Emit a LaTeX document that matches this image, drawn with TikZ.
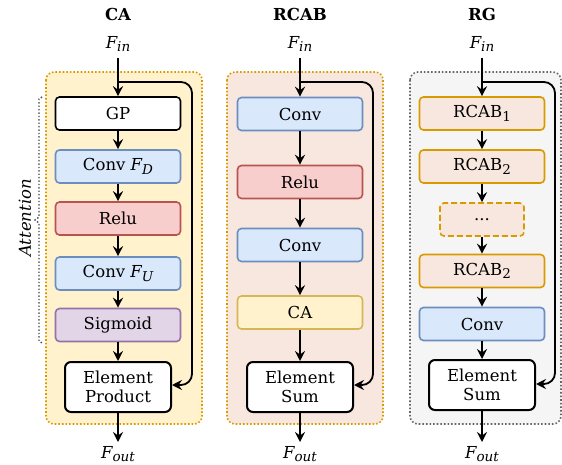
\documentclass[tikz,border=0pt]{standalone}
\usepackage{fontspec}
\setmainfont{DejaVu Serif}
\usetikzlibrary{arrows.meta}
\definecolor{caFill}{HTML}{FFF2CC}
\definecolor{caLine}{HTML}{D6B656}
\definecolor{orLine}{HTML}{D79B00}
\definecolor{rcFill}{HTML}{F8E7DF}
\definecolor{bluFill}{HTML}{DAE8FC}
\definecolor{bluLine}{HTML}{6C8EBF}
\definecolor{redFill}{HTML}{F8CECC}
\definecolor{redLine}{HTML}{B85450}
\definecolor{purFill}{HTML}{E1D5E7}
\definecolor{purLine}{HTML}{9673A6}
\definecolor{grFill}{HTML}{F5F5F5}
\definecolor{grLine}{HTML}{666666}
\newcommand\lsub[1]{\raisebox{-0.22em}{\fontsize{13.5}{13.5}\selectfont #1}}
\newcommand\Fx[1]{\textit{F\lsub{#1}}}
\begin{document}
\begin{tikzpicture}[x=1pt,y=-1pt,
  every node/.style={font=\fontsize{16.5}{19.5}\selectfont},
  panel/.style={rounded corners=8pt, line width=1.6pt, dotted},
  blk/.style={draw, rounded corners=4pt, line width=1.6pt, minimum width=125pt, minimum height=33pt, inner sep=0pt},
  elem/.style={draw=black, fill=white, rounded corners=6pt, line width=2pt, minimum width=106pt, minimum height=50pt, inner sep=0pt, align=center},
  flow/.style={-{Stealth[length=10pt,width=10pt,inset=3.5pt]}, line width=1.8pt},
  skip/.style={-{Stealth[length=10pt,width=10pt,inset=3.5pt]}, line width=1.8pt, rounded corners=11pt},
  ttl/.style={font=\fontsize{16.5}{19}\selectfont\bfseries},
  lbl/.style={inner sep=0pt}
]
\useasboundingbox (0,0) rectangle (562,465);
% panels
\draw[panel, fill=caFill, draw=orLine] (46,72) rectangle (202,424);
\draw[panel, fill=rcFill, draw=orLine] (227,72) rectangle (383,424);
\draw[panel, fill=grFill, draw=grLine] (410,72) rectangle (561,424);

% ---------- CA ----------
\node[ttl] (tCA) at (118,14) {CA};
\node[lbl] (finA) at (118,44) {\Fx{in}};
\node[blk, draw=black, fill=white] (gp) at (118,113.5) {GP};
\node[blk, draw=bluLine, fill=bluFill] (cfd) at (118,166.5) {Conv \Fx{D}};
\node[blk, draw=redLine, fill=redFill] (reluA) at (118,218.5) {Relu};
\node[blk, draw=bluLine, fill=bluFill] (cfu) at (118,273.5) {Conv \Fx{U}};
\node[blk, draw=purLine, fill=purFill] (sig) at (118,325) {Sigmoid};
\node[elem] (ep) at (118,387) {Element\\Product};
\node[lbl] (foutA) at (118,454) {\Fx{out}};
\coordinate (inA) at (118,58);
\coordinate (brA) at (118,82);
\coordinate (endA) at (118,442);
\draw[flow] (inA) -- (gp);
\draw[flow] (gp) -- (cfd);
\draw[flow] (cfd) -- (reluA);
\draw[flow] (reluA) -- (cfu);
\draw[flow] (cfu) -- (sig);
\draw[flow] (sig) -- (ep);
\draw[flow] (ep) -- (endA);
\draw[skip] (brA) -- (192,82) -- (192,385) -- (ep.east |- 0,385);

% attention bracket
\draw[dotted, line width=1.4pt, draw=grLine!70!black] (42,97) -- (39,99) -- (39,217) -- (35,220) -- (39,223) -- (39,341) -- (42,343);
\node[lbl, rotate=90, font=\fontsize{16.5}{19}\selectfont\itshape] (att) at (25,218) {Attention};

% ---------- RCAB ----------
\node[ttl] (tRC) at (300,14) {RCAB};
\node[lbl] (finB) at (300,44) {\Fx{in}};
\node[blk, draw=bluLine, fill=bluFill] (conv1) at (300,114) {Conv};
\node[blk, draw=redLine, fill=redFill] (reluB) at (300,182) {Relu};
\node[blk, draw=bluLine, fill=bluFill] (conv2) at (300,245) {Conv};
\node[blk, draw=caLine, fill=caFill] (caB) at (300,312.5) {CA};
\node[elem] (esB) at (300,387) {Element\\Sum};
\node[lbl] (foutB) at (300,454) {\Fx{out}};
\coordinate (inB) at (300,58);
\coordinate (brB) at (300,82);
\coordinate (endB) at (300,442);
\draw[flow] (inB) -- (conv1);
\draw[flow] (conv1) -- (reluB);
\draw[flow] (reluB) -- (conv2);
\draw[flow] (conv2) -- (caB);
\draw[flow] (caB) -- (esB);
\draw[flow] (esB) -- (endB);
\draw[skip] (brB) -- (373,82) -- (373,385) -- (esB.east |- 0,385);

% ---------- RG ----------
\node[ttl] (tRG) at (482,14) {RG};
\node[lbl] (finC) at (482,44) {\Fx{in}};
\node[blk, draw=orLine, fill=rcFill] (r1) at (482,113.5) {RCAB\lsub{1}};
\node[blk, draw=orLine, fill=rcFill] (r2) at (482,166.5) {RCAB\lsub{2}};
\node[blk, draw=orLine, fill=rcFill, dash pattern=on 6pt off 3pt, minimum width=84pt] (dots) at (482,219.5) {...};
\node[blk, draw=orLine, fill=rcFill] (r3) at (482,271) {RCAB\lsub{2}};
\node[blk, draw=bluLine, fill=bluFill] (conv3) at (482,324) {Conv};
\node[elem] (esC) at (482,385) {Element\\Sum};
\node[lbl] (foutC) at (482,454) {\Fx{out}};
\coordinate (inC) at (482,58);
\coordinate (brC) at (482,82);
\coordinate (endC) at (482,442);
\draw[flow] (inC) -- (r1);
\draw[flow] (r1) -- (r2);
\draw[flow] (r2) -- (dots);
\draw[flow] (dots) -- (r3);
\draw[flow] (r3) -- (conv3);
\draw[flow] (conv3) -- (esC);
\draw[flow] (esC) -- (endC);
\draw[skip] (brC) -- (555,82) -- (555,384) -- (esC.east |- 0,384);
\end{tikzpicture}
\end{document}
